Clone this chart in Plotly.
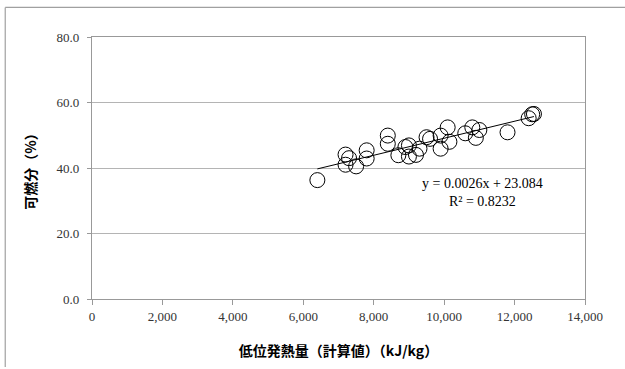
import plotly.graph_objects as go

# Data
heat_value = [6400, 7200, 7200, 7300, 7500, 7800, 7800, 8400, 8400, 8700,
              8900, 9000, 9000, 9200, 9300, 9500, 9600, 9900, 9900, 10100,
              10150, 10600, 10800, 10900, 11000, 11800, 12400, 12500, 12550]
combustible = [36.3, 44.1, 41.0, 43.0, 40.5, 45.4, 42.9, 49.9, 47.4, 43.9,
               46.4, 46.9, 43.5, 44.0, 45.9, 49.4, 48.9, 49.9, 45.9, 52.4,
               48.0, 50.6, 52.4, 49.2, 51.6, 50.9, 55.2, 56.4, 56.5]

trend_slope = 0.0026
trend_intercept = 23.084
r_squared = 0.8232

x_tickvals = [0, 2000, 4000, 6000, 8000, 10000, 12000, 14000]
y_tickvals = [0, 20, 40, 60, 80]

x_title = "低位発熱量（計算値）（kJ/kg）"
y_title = "可燃分（%）"

tick_font = dict(family="Liberation Serif", size=13, color="#333333")
title_font = dict(family="Noto Sans CJK JP", size=14, color="#000000", weight="bold")

xmin, xmax = min(heat_value), max(heat_value)
trend_x = [xmin, xmax]
trend_y = [trend_slope * v + trend_intercept for v in trend_x]

fig = go.Figure()
fig.add_trace(go.Scatter(
    x=heat_value, y=combustible, mode="markers",
    marker=dict(size=15, color="rgba(0,0,0,0)",
                line=dict(color="#000000", width=1)),
    showlegend=False))
fig.add_trace(go.Scatter(
    x=trend_x, y=trend_y, mode="lines",
    line=dict(color="#000000", width=1), hoverinfo="skip", showlegend=False))

fig.add_annotation(
    x=11100, y=32.5, xref="x", yref="y",
    text=f"y = {trend_slope}x + {trend_intercept}<br>R² = {r_squared}",
    showarrow=False, align="center",
    font=dict(family="Liberation Serif", size=14, color="#000000"))

# outer chart border (top and left visible)
fig.add_shape(type="line", xref="paper", yref="paper",
              x0=-0.176, x1=1.1, y0=1.113, y1=1.113,
              line=dict(color="#a0a0a0", width=1.2))
fig.add_shape(type="line", xref="paper", yref="paper",
              x0=-0.176, x1=-0.176, y0=1.113, y1=-0.26,
              line=dict(color="#a0a0a0", width=1.2))

fig.update_layout(
    width=625, height=369,
    margin=dict(l=92, r=40, t=37, b=67),
    paper_bgcolor="white", plot_bgcolor="white",
    showlegend=False,
)
fig.update_xaxes(
    range=[0, 14000], tickvals=x_tickvals, tickformat=",d",
    showgrid=False, zeroline=False,
    showline=True, linecolor="#999999", linewidth=1.2, mirror=True,
    ticks="outside", ticklen=5, tickcolor="#999999",
    tickfont=tick_font,
    title=dict(text=x_title, font=title_font, standoff=23),
)
fig.update_yaxes(
    range=[0, 80], tickvals=y_tickvals, tickformat=".1f",
    showgrid=True, gridcolor="#b4b4b4", gridwidth=1.2, zeroline=False,
    showline=True, linecolor="#999999", linewidth=1.2, mirror=True,
    ticks="outside", ticklen=4, tickcolor="#999999",
    ticklabelstandoff=5,
    tickfont=tick_font,
    title=dict(text=y_title, font=title_font, standoff=16),
)

fig.write_html("out.html",
               config={"displayModeBar": False},
               post_script="document.body.style.margin='0';document.body.style.overflow='hidden';")
